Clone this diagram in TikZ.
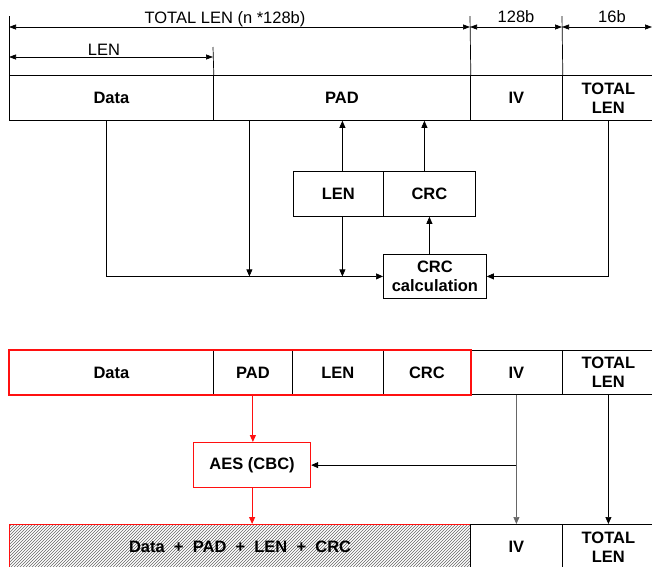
\documentclass[tikz,border=0pt]{standalone}
\usepackage{fontspec}
\setmainfont{Liberation Sans}
\usetikzlibrary{arrows.meta,patterns,calc}
\definecolor{myred}{HTML}{FF1010}
\definecolor{lgray}{HTML}{666666}
\begin{document}
\begin{tikzpicture}[x=1pt,y=-1pt,
  every node/.style={font=\fontsize{16.5}{19}\selectfont},
  cell/.style={draw=black, line width=0.8pt, anchor=north west, inner sep=0pt,
    font=\fontsize{16.5}{19}\selectfont\bfseries, align=center},
  arr/.style={-{Triangle[length=7pt,width=6pt]}, line width=0.7pt},
  redarr/.style={arr, draw=myred, fill=myred, line width=1.1pt},
  dim/.style={{Triangle[length=7pt,width=5pt]}-{Triangle[length=7pt,width=5pt]}, line width=0.7pt},
  tick/.style={line width=0.7pt},
  lbl/.style={anchor=base, inner sep=0pt}
]
\useasboundingbox (0,0) rectangle (652,566);
\clip (0,0) rectangle (652,566);

% ---------- top dimension lines ----------
\coordinate (t0) at (9,16);
\coordinate (t1) at (213,47);
\coordinate (t2) at (470,16);
\coordinate (t3) at (562,16);
\coordinate (tend) at (652,27);

% ---------- row 1 ----------
\node[cell, minimum width=204pt, minimum height=45pt] (d1) at (9,75) {Data};
\node[cell, minimum width=257pt, minimum height=45pt] (p1) at (213,75) {PAD};
\node[cell, minimum width=92pt, minimum height=45pt] (iv1) at (470,75) {IV};
\node[cell, minimum width=92pt, minimum height=45pt] (tl1) at (562,75) {TOTAL\\LEN};

\draw[tick] (t0) -- (d1.north west);
\draw[tick] (t1) -- (d1.north east);
\draw[tick] (t2) -- (p1.north east);
\draw[tick] (t3) -- (iv1.north east);

\draw[dim] (9,27) -- (470,27);
\draw[dim] (9,57) -- (213,57);
\draw[dim] (470,27) -- (562,27);
\draw[dim] (562,27) -- (tend);

\node[lbl] (ltot) at (225,23) {TOTAL LEN (n *128b)};
\node[lbl] (llen) at (104,55) {LEN};
\node[lbl] (l128) at (516,22) {128b};
\node[lbl] (l16) at (612,22) {16b};

% ---------- middle boxes ----------
\node[cell, minimum width=90pt, minimum height=45pt] (lenb) at (293,171) {LEN};
\node[cell, minimum width=92pt, minimum height=45pt] (crcb) at (383,171) {CRC};
\node[cell, minimum width=103pt, minimum height=44pt] (calc) at (383,254) {CRC\\calculation};

\draw[arr] ([xshift=-5pt]d1.south) |- (calc.west);
\draw[arr] ([xshift=-92.5pt]p1.south) -- ([xshift=-92.5pt]p1.south |- calc.west);
\draw[arr] ([xshift=4pt]lenb.north) -- ([xshift=4pt]lenb.north |- p1.south);
\draw[arr] ([xshift=4pt]lenb.south) -- ([xshift=4pt]lenb.south |- calc.west);
\draw[arr] ([xshift=-5pt]crcb.north) -- ([xshift=-5pt]crcb.north |- p1.south);
\draw[arr] ([xshift=-5.5pt]calc.north) -- ([xshift=-5.5pt]calc.north |- crcb.south);
\draw[arr] (tl1.south) |- (calc.east);

% ---------- row 2 ----------
\node[cell, minimum width=204pt, minimum height=44pt] (d2) at (9,350) {Data};
\node[cell, minimum width=79pt, minimum height=44pt] (p2) at (213,350) {PAD};
\node[cell, minimum width=91pt, minimum height=44pt] (l2) at (292,350) {LEN};
\node[cell, minimum width=87pt, minimum height=44pt] (c2) at (383,350) {CRC};
\node[cell, minimum width=92pt, minimum height=44pt] (iv2) at (470,350) {IV};
\node[cell, minimum width=92pt, minimum height=44pt] (tl2) at (562,350) {TOTAL\\LEN};
\draw[draw=myred, line width=1.4pt] (d2.north west) rectangle (c2.south east);

% ---------- AES ----------
\node[cell, draw=myred, line width=1.2pt, minimum width=117pt, minimum height=45pt] (aes) at (193,442) {AES (CBC)};

% ---------- row 3 ----------
\node[cell, draw=myred, line width=1.2pt, pattern=north east lines, pattern color=lgray,
      minimum width=461pt, minimum height=45pt] (h3) at (9,524) {Data~~+~~PAD~~+~~LEN~~+~~CRC};
\node[cell, minimum width=92pt, minimum height=45pt] (iv3) at (470,524) {IV};
\node[cell, minimum width=92pt, minimum height=45pt] (tl3) at (562,524) {TOTAL\\LEN};

\draw[redarr] (p2.south) -- (p2.south |- aes.north);
\draw[redarr] (aes.south) -- (aes.south |- h3.north);
\draw[arr, draw=lgray] (iv2.south) -- (iv3.north);
\draw[arr] (iv2.south |- aes.east) -- (aes.east);
\draw[arr] (tl2.south) -- (tl3.north);
\end{tikzpicture}
\end{document}
